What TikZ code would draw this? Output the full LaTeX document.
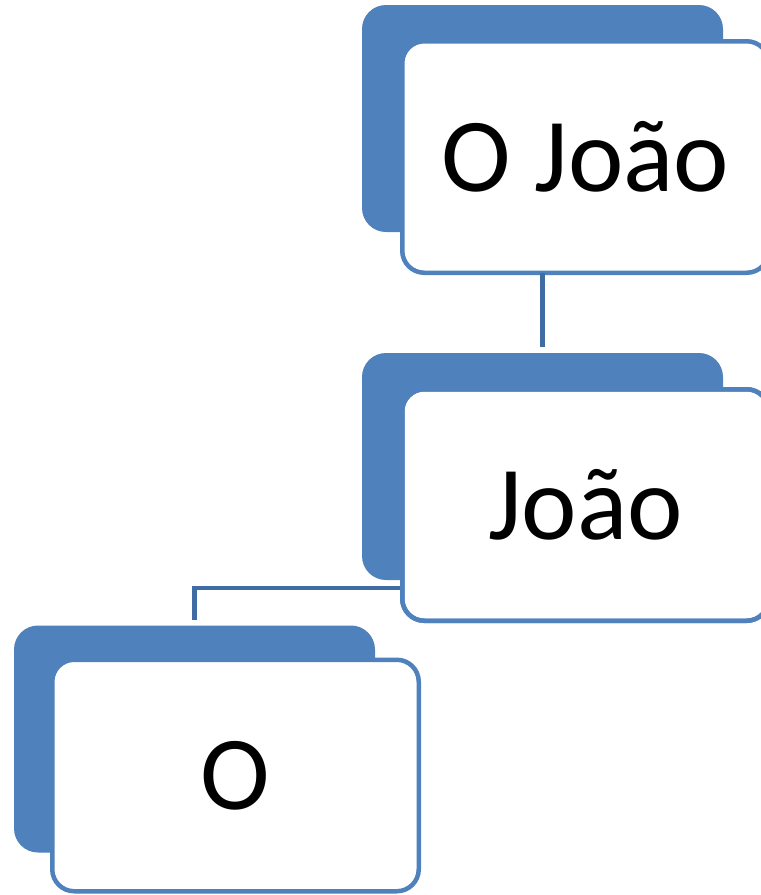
\documentclass[tikz,border=0pt]{standalone}
\usepackage{fontspec}
\setmainfont{Carlito}
\definecolor{accent}{HTML}{4F81BD}
\definecolor{connc}{HTML}{3F6CA3}
\begin{document}
\begin{tikzpicture}[x=1pt,y=-1pt,
  backbox/.style={fill=accent, draw=none, rounded corners=24pt, inner sep=0pt, outer sep=0pt,
    minimum width=361pt, minimum height=227pt},
  frontbox/.style={fill=white, draw=accent, line width=4.5pt, rounded corners=22pt, inner sep=0pt, outer sep=0pt,
    minimum width=366.5pt, minimum height=231.5pt, font=\fontsize{105}{120}\selectfont, text=black},
  conn/.style={draw=connc, line width=4.5pt},
  frontborder/.style={draw=accent, line width=4.5pt, rounded corners=22pt}
]
\clip (0,0) rectangle (761,895);
\fill[white] (0,0) rectangle (761,895);
% back boxes
\node[backbox] (b1) at (542.5,118.5) {};
\node[backbox] (b2) at (542.5,466.5) {};
\node[backbox] (b3) at (194.5,739) {};
% connector anchor
\coordinate (j2) at (400,588);
% front boxes
\node[frontbox] (f1) at (585.5,157) {O João};
\node[frontbox] (f2) at (585.5,505) {João};
\node[frontbox] (f3) at (235.5,775.5) {O};
% connectors
\draw[conn, shorten >=6pt] (b2.north |- f1.south) -- (b2.north);
\draw[conn, shorten >=6pt] (f2.west |- j2) -| (b3.north);
% redraw front2 border over connector start
\draw[frontborder] (f2.south west) rectangle (f2.north east);
\end{tikzpicture}
\end{document}
